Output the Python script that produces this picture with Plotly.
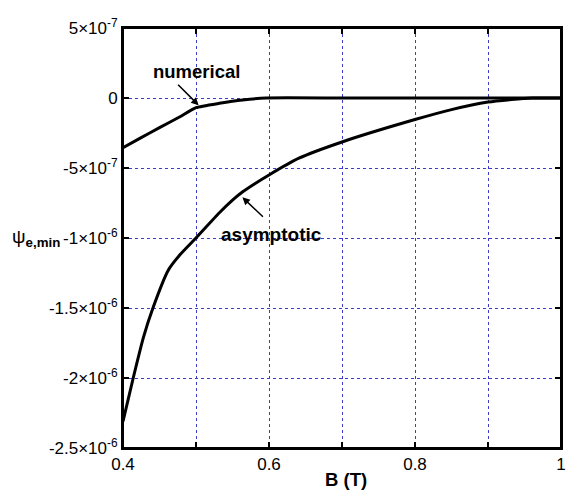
import plotly.graph_objects as go

# Data
num_B = [0.40, 0.423, 0.45, 0.478, 0.50, 0.532, 0.564, 0.596, 0.70, 0.80, 0.90, 1.00]
num_psi = [-3.55e-7, -2.88e-7, -2.12e-7, -1.34e-7, -0.69e-7, -0.38e-7, -0.14e-7, 0.0, 0.0, 0.0, 0.0, 0.0]

asy_B = [0.40, 0.414, 0.428, 0.441, 0.462, 0.478, 0.50, 0.532, 0.55, 0.564, 0.60, 0.641,
         0.70, 0.80, 0.85, 0.90, 0.932, 0.96, 1.00]
asy_psi = [-2.31e-6, -2.00e-6, -1.71e-6, -1.50e-6, -1.23e-6, -1.12e-6, -1.00e-6, -0.82e-6, -0.73e-6,
           -0.67e-6, -0.55e-6, -0.43e-6, -0.314e-6, -0.154e-6, -0.083e-6, -0.029e-6, -0.011e-6, 0.0, 0.0]

x_tickvals = [0.4, 0.5, 0.6, 0.7, 0.8, 0.9, 1.0]
x_ticktext = ["0.4", "", "0.6", "", "0.8", "", "1"]
y_tickvals = [5e-7, 0, -5e-7, -1e-6, -1.5e-6, -2e-6, -2.5e-6]
y_ticktext = ["5×10<sup>-7</sup>", "0", "-5×10<sup>-7</sup>", "-1×10<sup>-6</sup>",
              "-1.5×10<sup>-6</sup>", "-2×10<sup>-6</sup>", "-2.5×10<sup>-6</sup>"]

FONT = "Arial, Liberation Sans, Helvetica, sans-serif"

fig = go.Figure()
fig.add_trace(go.Scatter(x=num_B, y=num_psi, mode="lines", name="numerical",
                         line=dict(color="black", width=3, shape="spline", smoothing=0.5)))
fig.add_trace(go.Scatter(x=asy_B, y=asy_psi, mode="lines", name="asymptotic",
                         line=dict(color="black", width=3, shape="spline", smoothing=0.6)))

axis_common = dict(showline=True, linecolor="black", linewidth=2, mirror="ticks",
                   ticks="inside", ticklen=6, tickwidth=1.5, tickcolor="black",
                   showgrid=True, gridcolor="#3b3bd0", gridwidth=1, griddash="dot",
                   zeroline=False, automargin=False, ticklabeloverflow="allow",
                   tickfont=dict(family=FONT, size=17, color="black"))

fig.update_xaxes(range=[0.4, 1.0], tickmode="array", tickvals=x_tickvals,
                 ticktext=x_ticktext, **axis_common)
fig.update_yaxes(range=[-2.5e-6, 5e-7], tickmode="array", tickvals=y_tickvals,
                 ticktext=y_ticktext, **axis_common)

annotations = [
    dict(text="<b>numerical</b>", x=0.5, y=(448 - 72) / 420, xref="x", yref="paper",
         showarrow=False, font=dict(family=FONT, size=18.5, color="black"),
         xanchor="center", yanchor="middle"),
    dict(text="", x=0.5036, y=-0.52e-7, xref="x", yref="y", showarrow=True,
         ax=-22, ay=-22, arrowhead=2, arrowsize=1, arrowwidth=1.5, arrowcolor="black"),
    dict(text="<b>asymptotic</b>", x=0.6032, y=(448 - 234) / 420, xref="x", yref="paper",
         showarrow=False, font=dict(family=FONT, size=19, color="black"),
         xanchor="center", yanchor="middle"),
    dict(text="", x=0.5636, y=-7.09e-7, xref="x", yref="y", showarrow=True,
         ax=22, ay=21, arrowhead=2, arrowsize=1, arrowwidth=1.5, arrowcolor="black"),
    dict(text="ψ<sub><b>e,min</b></sub>", x=(10 - 123) / 438, y=(448 - 238) / 420,
         xref="paper", yref="paper", showarrow=False,
         font=dict(family=FONT, size=19, color="black"), xanchor="left", yanchor="middle"),
    dict(text="<b>B (T)</b>", x=(346 - 123) / 438, y=(448 - 479) / 420,
         xref="paper", yref="paper", showarrow=False,
         font=dict(family=FONT, size=18.5, color="black"), xanchor="center", yanchor="middle"),
]

fig.add_shape(type="rect", xref="paper", yref="paper", x0=0, x1=1, y0=0, y1=1,
              line=dict(color="black", width=2), fillcolor="rgba(0,0,0,0)", layer="above")

fig.update_layout(width=567, height=490, margin=dict(l=123, r=6, t=28, b=42),
                  paper_bgcolor="white", plot_bgcolor="white", showlegend=False,
                  font=dict(family=FONT, color="black"), annotations=annotations)

fig.write_html("out.html")
